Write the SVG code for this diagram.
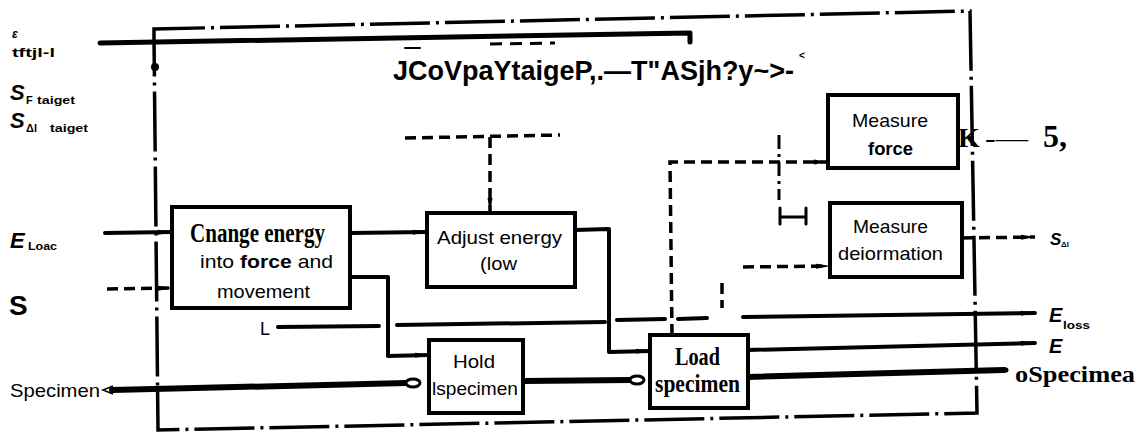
<svg xmlns="http://www.w3.org/2000/svg" width="1141" height="434" viewBox="0 0 1141 434">
<style>
.bx{fill:#fff;stroke:#000;stroke-width:4}
.s{fill:none;stroke:#000;stroke-width:4;stroke-linecap:round;stroke-linejoin:round}
.th{fill:none;stroke:#000;stroke-width:6;stroke-linecap:round}
.d{fill:none;stroke:#000;stroke-width:3.5;stroke-dasharray:11 6}
.dd{fill:none;stroke:#000;stroke-width:3.5;stroke-dasharray:60 6 3 6}
.sans{font-family:"Liberation Sans",Arial,sans-serif;fill:#000}
.serif{font-family:"Liberation Serif","Times New Roman",serif;font-weight:bold;fill:#000}
.lab{font-family:"Liberation Sans",Arial,sans-serif;font-weight:bold;fill:#000}
</style>
<defs>
<marker id="a" markerUnits="userSpaceOnUse" markerWidth="16" markerHeight="8" refX="14" refY="4" orient="auto"><path d="M0,1.5 L15,4 L0,6.5 z" fill="#000"/></marker>
</defs>

<g id="boundary">
<path class="dd" d="M154,38 L154,29 L970,11 L977,413 L158,430 Z"/>
<circle cx="155" cy="67" r="4" fill="#000"/>
</g>

<g id="connectors">
<path class="s" style="stroke-width:5" d="M100,43 L690,33 L690,42"/>
<path class="s" d="M105,233 L172,232" marker-end="url(#a)"/>
<path class="d" d="M107,289 L172,288" marker-end="url(#a)"/>
<path class="s" d="M350,233 L427,232" marker-end="url(#a)"/>
<path class="s" d="M350,277 L388,277 L388,356 L429,355" marker-end="url(#a)"/>
<path class="s" d="M575,230 L609,229 L609,352 L650,351" marker-end="url(#a)"/>
<path class="s" d="M278,327 L379,326"/>
<path class="s" d="M397,325 L605,322"/>
<path class="s" d="M617,320 L665,319"/>
<path class="s" d="M678,319 L707,318"/>
<path class="s" d="M743,317 L1035,313" marker-end="url(#a)"/>
<path class="s" d="M748,350 L1035,343" marker-end="url(#a)"/>
<path class="th" d="M748,377 L1004,370"/>
<circle cx="1006" cy="370" r="2.5" fill="#000"/>
<path class="th" d="M112,390 L407,383"/>
<path fill="none" stroke="#000" stroke-width="1.5" d="M113,386 L103,390 L113,394"/>
<ellipse cx="413" cy="383" rx="7" ry="4" fill="#fff" stroke="#000" stroke-width="3"/>
<path class="th" d="M523,381 L630,380"/>
<ellipse cx="637" cy="380" rx="7" ry="4" fill="#fff" stroke="#000" stroke-width="3"/>
<path class="d" d="M405,138 L560,135"/>
<path class="d" d="M490,137 L490,212" marker-end="url(#a)"/>
<path class="d" d="M672,335 L670,162 L828,162" marker-end="url(#a)"/>
<path class="d" style="stroke-width:3;stroke-dasharray:14 5 3 5" d="M779,135 L779,200"/>
<path class="s" style="stroke-width:3" d="M780,208 L780,224 M780,217 L806,217 M806,208 L806,224"/>
<path class="d" d="M722,283 L722,308"/>
<path class="d" d="M743,267 L830,266" marker-end="url(#a)"/>
<path class="d" d="M962,238 L1035,237" marker-end="url(#a)"/>
<path class="d" style="stroke-width:3;stroke-dasharray:12 8" d="M490,44 L555,43"/>
<path class="s" style="stroke-width:2" d="M405,48 L420,48"/>
</g>

<g id="box1">
<rect class="bx" x="172" y="207" width="178" height="101"/>
<text class="serif" x="190" y="242" font-size="27" textLength="135" lengthAdjust="spacingAndGlyphs">Cnange energy</text>
<text class="sans" x="200" y="268" font-size="19" textLength="133" lengthAdjust="spacingAndGlyphs">into <tspan font-weight="bold">force</tspan> and</text>
<text class="sans" x="217" y="298" font-size="19" textLength="93" lengthAdjust="spacingAndGlyphs">movement</text>
</g>

<g id="box2">
<rect class="bx" x="427" y="213" width="148" height="74"/>
<text class="sans" x="437" y="244" font-size="19" textLength="125" lengthAdjust="spacingAndGlyphs">Adjust energy</text>
<text class="sans" x="480" y="270" font-size="19" textLength="37" lengthAdjust="spacingAndGlyphs">(low</text>
</g>

<g id="box3">
<rect class="bx" x="429" y="340" width="94" height="73"/>
<text class="sans" x="453" y="368" font-size="19" textLength="42" lengthAdjust="spacingAndGlyphs">Hold</text>
<text class="sans" x="432" y="395" font-size="19" textLength="86" lengthAdjust="spacingAndGlyphs">lspecimen</text>
</g>

<g id="box4">
<rect class="bx" x="650" y="335" width="98" height="73"/>
<text class="serif" x="675" y="365" font-size="25" textLength="45" lengthAdjust="spacingAndGlyphs">Load</text>
<text class="serif" x="655" y="392" font-size="25" textLength="85" lengthAdjust="spacingAndGlyphs">specimen</text>
</g>

<g id="box5">
<rect class="bx" x="828" y="95" width="130" height="73"/>
<text class="sans" x="852" y="127" font-size="19" textLength="76" lengthAdjust="spacingAndGlyphs">Measure</text>
<text class="sans" x="868" y="155" font-size="19" font-weight="bold" textLength="45" lengthAdjust="spacingAndGlyphs">force</text>
</g>

<g id="box6">
<rect class="bx" x="830" y="203" width="132" height="74"/>
<text class="sans" x="853" y="233" font-size="19" textLength="75" lengthAdjust="spacingAndGlyphs">Measure</text>
<text class="sans" x="838" y="260" font-size="19" textLength="105" lengthAdjust="spacingAndGlyphs">deiormation</text>
</g>

<g id="labels">
<text class="sans" x="393" y="80" font-size="27" font-weight="bold">JCoVpaYtaigeP,.—T&quot;ASjh?y~&gt;-<tspan x="799" dy="-21" font-size="10">&lt;</tspan></text>
<text class="lab" x="12" y="38" font-size="12" font-style="italic">ε</text>
<text class="lab" x="12" y="57" font-size="12" textLength="43" lengthAdjust="spacingAndGlyphs">tftjl-l</text>
<text class="lab" x="10" y="100" font-size="22" font-style="italic">S</text>
<text class="lab" x="26" y="104" font-size="11">F</text>
<text class="lab" x="37" y="104" font-size="10" textLength="38" lengthAdjust="spacingAndGlyphs">taiget</text>
<text class="lab" x="10" y="128" font-size="22" font-style="italic">S</text>
<text class="lab" x="26" y="132" font-size="11">Δl</text>
<text class="lab" x="50" y="132" font-size="10" textLength="38" lengthAdjust="spacingAndGlyphs">taiget</text>
<text class="lab" x="10" y="248" font-size="22" font-style="italic">E</text>
<text class="lab" x="28" y="250" font-size="11" textLength="29" lengthAdjust="spacingAndGlyphs">Loac</text>
<text class="lab" x="9" y="315" font-size="28">S</text>
<text class="sans" x="10" y="397" font-size="19" textLength="90" lengthAdjust="spacingAndGlyphs">Specimen</text>
<text class="sans" x="260" y="335" font-size="18">L</text>
<text class="lab" x="1050" y="245" font-size="17" font-style="italic">S</text>
<text class="lab" x="1061" y="247" font-size="8">Δl</text>
<text class="lab" x="1049" y="322" font-size="20" font-style="italic">E</text>
<text class="lab" x="1063" y="329" font-size="10" textLength="27" lengthAdjust="spacingAndGlyphs">loss</text>
<text class="lab" x="1049" y="353" font-size="20" font-style="italic">E</text>
<text class="serif" x="1015" y="382" font-size="24" font-weight="normal" textLength="120" lengthAdjust="spacingAndGlyphs">oSpecimea</text>
<text class="serif" y="147" font-size="28"><tspan x="958">K</tspan><tspan x="985" font-weight="normal" textLength="43" lengthAdjust="spacingAndGlyphs">-—</tspan><tspan x="1043" font-size="32">5,</tspan></text>
</g>
</svg>
